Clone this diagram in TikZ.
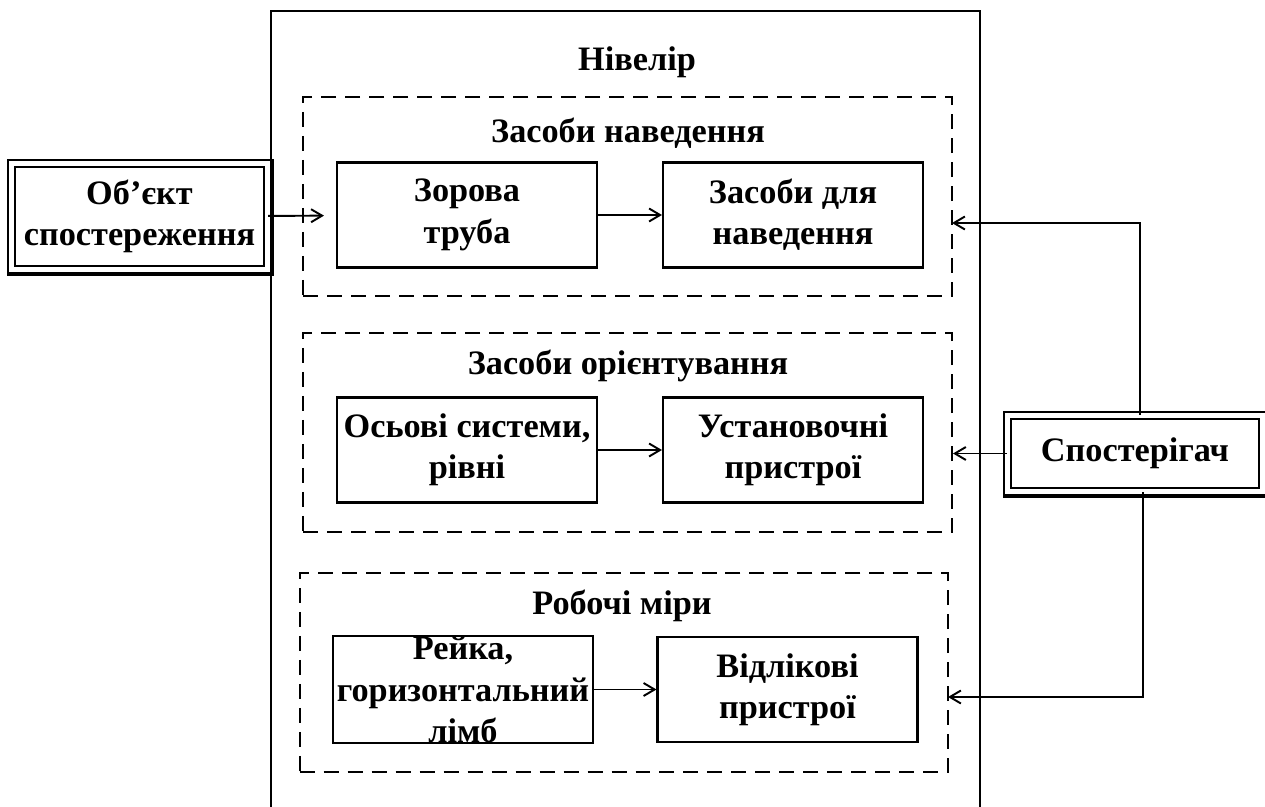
\documentclass[tikz,border=0pt]{standalone}
\usepackage{fontspec}
\setmainfont{Liberation Serif}
\usetikzlibrary{arrows.meta}

\begin{document}
\begin{tikzpicture}
    [
    x=0.02cm, y=-0.02cm,
    every node/.style={font=\bfseries\fontsize{19.5}{23.5}\selectfont},
    block/.style={draw,line width=1.2pt,align=center,inner sep=0pt,minimum width=5.2cm,minimum height=2.1cm},
    group/.style={draw,line width=1.2pt,dash pattern=on 0.3cm off 0.18cm,inner sep=0pt,minimum width=12.98cm,minimum height=3.98cm},
    outer/.style={draw,double,double distance=0.1cm,line width=1.1pt,align=center,inner sep=0pt},
    shadow/.style={line width=1.6pt},
    arrow/.style={line width=1.1pt,-{Straight Barb[length=0.22cm,width=0.26cm]}}
    ]
    \useasboundingbox (0,0) rectangle (1265,807);
    \node (niv) at (625.5,420.5) [draw,line width=1.2pt,minimum width=14.18cm,minimum height=16.38cm] {};
    \node (nivt) at (637,62) {Нівелір};
    \node (g1) at (627.5,196.5) [group] {};
    \node (g1t) at (628,133) {Засоби наведення};
    \node (tube) at (467,215) [block] {Зорова\\труба};
    \node (aim) at (793,215) [block] {Засоби для\\наведення};
    \node (g2) at (627.5,432.5) [group] {};
    \node (g2t) at (628,366) {Засоби орієнтування};
    \node (axes) at (467,450) [block] {Осьові системи,\\рівні};
    \node (setup) at (793,450) [block] {Установочні\\пристрої};
    \node (g3) at (624,672.5) [group] {};
    \node (g3t) at (622,606) {Робочі міри};
    \node (rail) at (463,689.5) [block] {Рейка,\\горизонтальний\\лімб};
    \node (read) at (787.5,689.5) [block] {Відлікові\\пристрої};
    \node (obj) at (139.5,216.5) [outer,minimum width=5.11cm,minimum height=2.12cm] {Об'єкт\\спостереження};
    \node (obs) at (1135,453.5) [outer,minimum width=5.1cm,minimum height=1.52cm] {Спостерігач};
    \draw [shadow] ([shift={(-0.07cm,-0.08cm)}]obj.south west) -| ([shift={(0.08cm,0.07cm)}]obj.north east);
    \draw [shadow] ([shift={(-0.07cm,-0.08cm)}]obs.south west) -| ([shift={(0.08cm,0.07cm)}]obs.north east);
    \coordinate (in1) at (952,223);
    \coordinate (in3) at (948,697);
    \draw [arrow,shorten >=0.24cm] (obj) to (tube);
    \draw [arrow] (tube) to (aim);
    \draw [arrow] (axes) to (setup);
    \draw [arrow] (rail) to (read);
    \draw [arrow] ([xshift=0.1cm]obs.north) |- (in1);
    \draw [arrow] (obs.west) to (g2.east |- obs.west);
    \draw [arrow] ([xshift=0.16cm]obs.south) |- (in3);
\end{tikzpicture}
\end{document}
